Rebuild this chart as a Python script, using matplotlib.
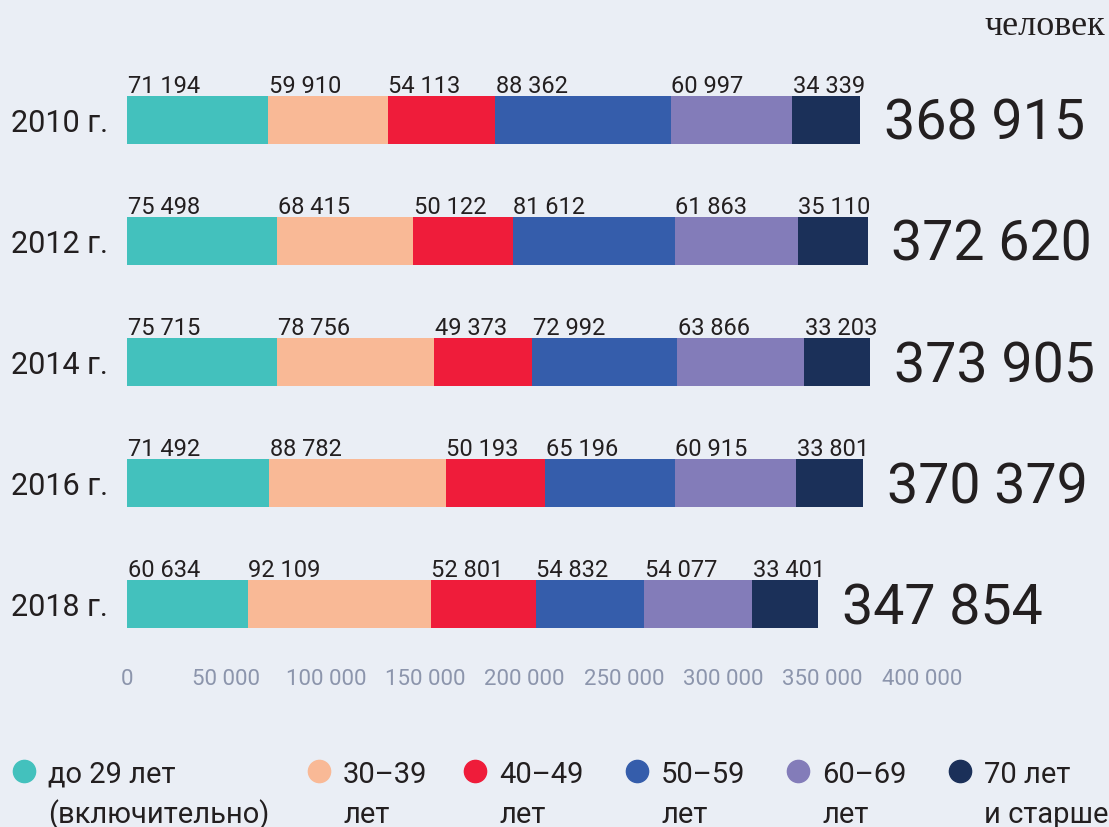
import numpy as np
import matplotlib.pyplot as plt
from matplotlib.lines import Line2D

plt.rcParams['font.family'] = ['Roboto', 'DejaVu Sans']

years = ['2010 г.', '2012 г.', '2014 г.', '2016 г.', '2018 г.']
age_groups = ['до 29 лет\n(включительно)', '30–39\nлет', '40–49\nлет',
              '50–59\nлет', '60–69\nлет', '70 лет\nи старше']
under_29 = [71194, 75498, 75715, 71492, 60634]
age_30_39 = [59910, 68415, 78756, 88782, 92109]
age_40_49 = [54113, 50122, 49373, 50193, 52801]
age_50_59 = [88362, 81612, 72992, 65196, 54832]
age_60_69 = [60997, 61863, 63866, 60915, 54077]
age_70_plus = [34339, 35110, 33203, 33801, 33401]
x_ticks = [0, 50000, 100000, 150000, 200000, 250000, 300000, 350000, 400000]

colors = ['#43C1BD', '#F9B996', '#EF1C3A', '#355DAB', '#837CB9', '#1B3059']
bg = '#EAEEF5'
dark = '#231F20'

W, H = 1109, 828
fig = plt.figure(figsize=(W / 100, H / 100), dpi=100, facecolor=bg)
# axes placed in pixels: x 127..922, y 60..666
ax = fig.add_axes([127 / W, 1 - 666 / H, (922 - 127) / W, (666 - 60) / H])
ax.set_facecolor(bg)
ax.set_xlim(0, 400000)
ax.set_ylim(4.504, -0.504)

def fmt(v):
    return f"{v:,}".replace(',', ' ')

series = [under_29, age_30_39, age_40_49, age_50_59, age_60_69, age_70_plus]
data = np.array(series)
y = np.arange(len(years))
px = 1 / 121  # data units per pixel vertically
bar_h = 0.4
left = np.zeros(len(years))
for vals, c in zip(data, colors):
    ax.barh(y, vals, left=left, height=bar_h, color=c, linewidth=0)
    for yi, l, v in zip(y, left, vals):
        ax.text(l + 300, yi - bar_h / 2 - 4 * px, fmt(v), ha='left', va='baseline',
                fontsize=17, color=dark)
    left += vals

totals = data.sum(axis=0)
for yi, t in zip(y, totals):
    ax.text(t + 12000, yi + 19 * px, fmt(t), ha='left', va='baseline',
            fontsize=40, color=dark)
for yi, lab in zip(y, years):
    ax.text(-9500, yi + 11 * px, lab, ha='right', va='baseline',
            fontsize=22, color=dark)

ax.set_xticks(x_ticks)
ax.set_xticklabels([fmt(t) for t in x_ticks], fontsize=16, color='#8C95AC')
ax.tick_params(axis='x', length=0, pad=2)
ax.set_yticks([])
for s in ax.spines.values():
    s.set_visible(False)

fig.text(1105 / W, 1 - 35 / H, 'человек', ha='right', va='baseline',
         fontsize=26, color=dark, family=['Liberation Serif', 'DejaVu Serif'])

# legend
leg_x = [24, 319, 475, 637, 798, 960]
for lx, lab, c in zip(leg_x, age_groups, colors):
    fig.add_artist(Line2D([lx / W], [1 - 772 / H], marker='o', markersize=16,
                          color=c, linestyle='none', transform=fig.transFigure))
    for k, line in enumerate(lab.split('\n')):
        fig.text((lx + 24) / W, 1 - (783 + 40 * k) / H, line, ha='left',
                 va='baseline', fontsize=21, color=dark)

fig.savefig('out.png', dpi=100, facecolor=bg)
